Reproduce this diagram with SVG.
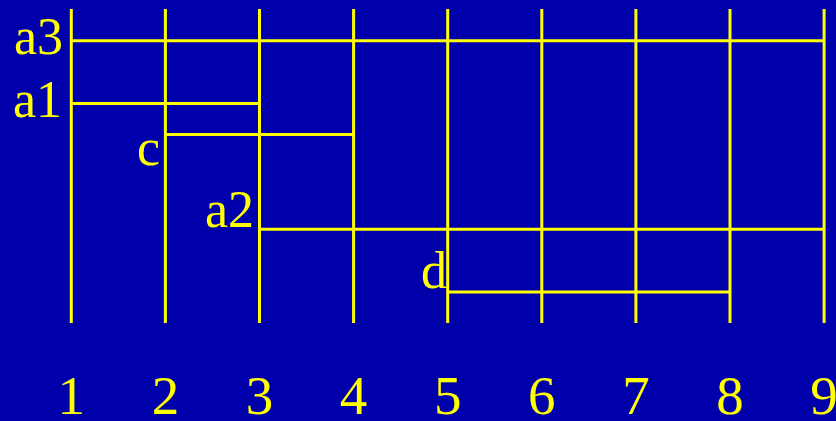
<svg xmlns="http://www.w3.org/2000/svg" width="836" height="421" viewBox="0 0 836 421">
<style>
.ln{stroke:#FFFF00;stroke-width:3;fill:none}
.t{fill:#FFFF00;font-family:"Liberation Serif","Times New Roman",serif;font-size:52px}
.e{text-anchor:end}
.m{text-anchor:middle;font-size:55px}
</style>
<rect width="836" height="421" fill="#0000AA"/>
<g id="connectors" class="ln">
<line x1="71.3" y1="9" x2="71.3" y2="323"/>
<line x1="165.4" y1="9" x2="165.4" y2="323"/>
<line x1="259.5" y1="9" x2="259.5" y2="323"/>
<line x1="353.6" y1="9" x2="353.6" y2="323"/>
<line x1="447.7" y1="9" x2="447.7" y2="323"/>
<line x1="541.8" y1="9" x2="541.8" y2="323"/>
<line x1="635.9" y1="9" x2="635.9" y2="323"/>
<line x1="730" y1="9" x2="730" y2="323"/>
<line x1="824.1" y1="9" x2="824.1" y2="323"/>
</g>
<g id="a3"><line class="ln" x1="71.3" y1="40.7" x2="824.1" y2="40.7"/><text class="t e" x="63" y="54">a3</text></g>
<g id="a1"><line class="ln" x1="71.3" y1="103.5" x2="259.5" y2="103.5"/><text class="t e" x="62" y="117">a1</text></g>
<g id="c"><line class="ln" x1="165.4" y1="134.5" x2="353.6" y2="134.5"/><text class="t e" x="160" y="165">c</text></g>
<g id="a2"><line class="ln" x1="259.5" y1="229.3" x2="824.1" y2="229.3"/><text class="t e" x="254" y="227">a2</text></g>
<g id="d"><line class="ln" x1="447.7" y1="292" x2="730" y2="292"/><text class="t e" x="447" y="288">d</text></g>
<g id="axis" class="t m">
<text x="71.3" y="414">1</text>
<text x="165.4" y="414">2</text>
<text x="259.5" y="414">3</text>
<text x="353.6" y="414">4</text>
<text x="447.7" y="414">5</text>
<text x="541.8" y="414">6</text>
<text x="635.9" y="414">7</text>
<text x="730" y="414">8</text>
<text x="824.1" y="414">9</text>
</g>
</svg>
